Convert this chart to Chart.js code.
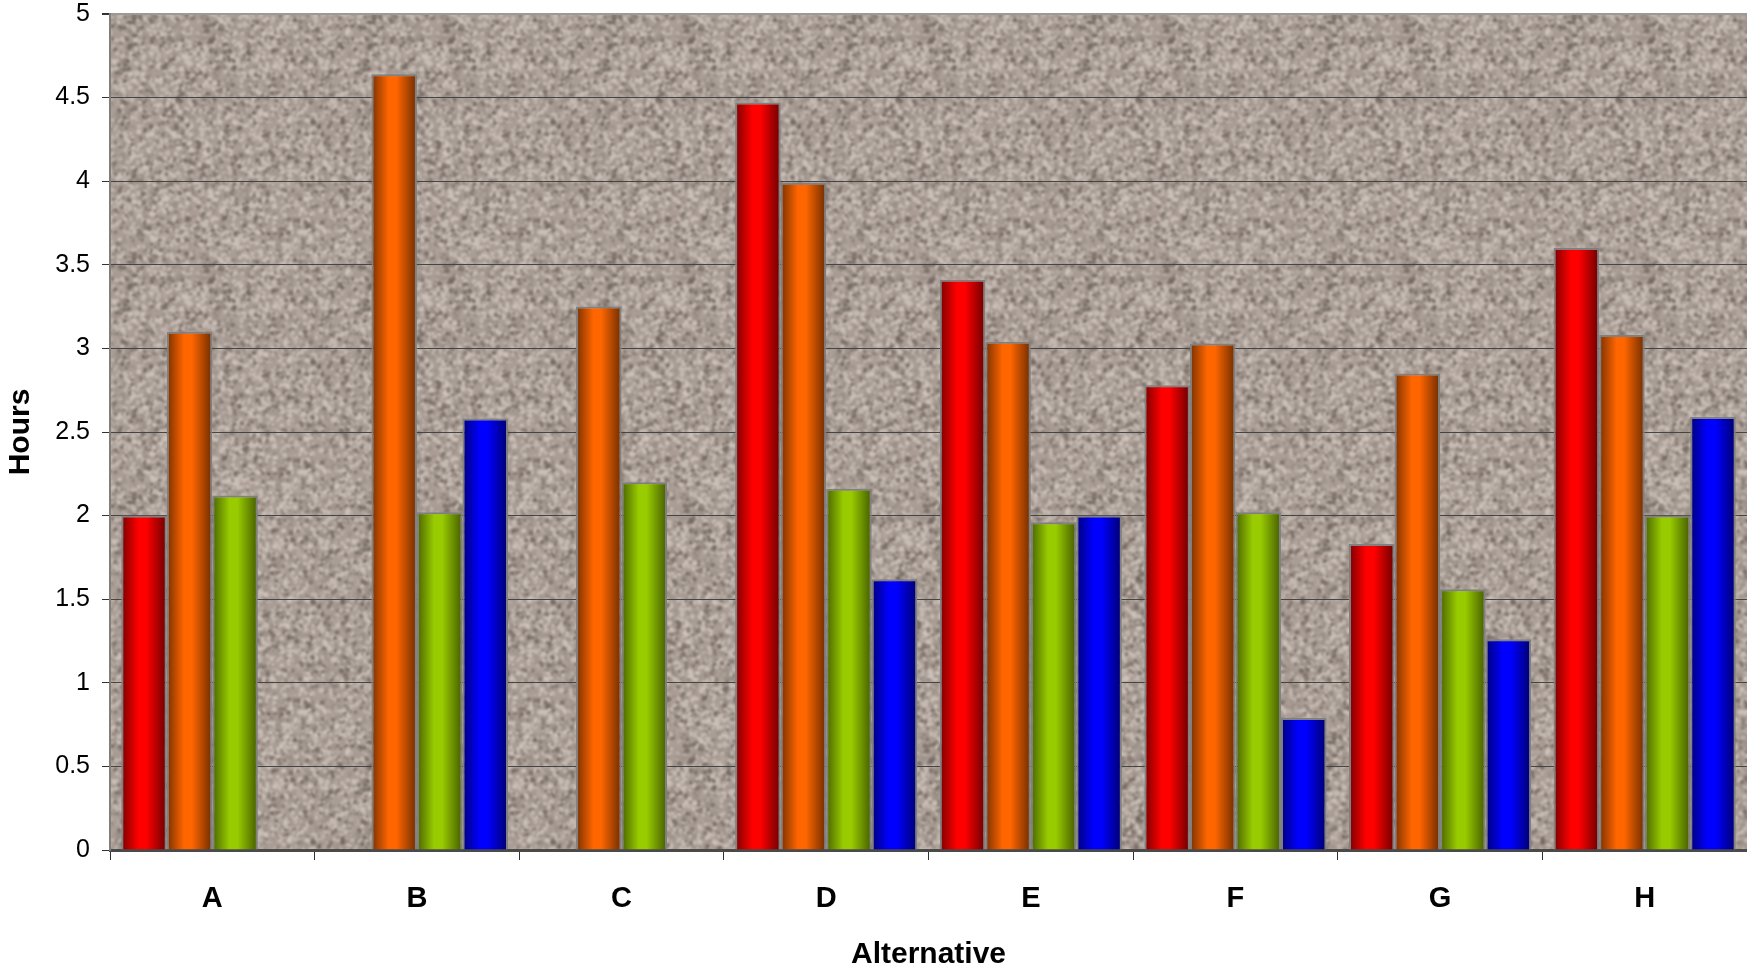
<!DOCTYPE html>
<html>
<head>
<meta charset="utf-8">
<script src="https://cdn.jsdelivr.net/npm/chart.js@4"></script>
<style>
  html, body { margin: 0; padding: 0; background: #fff; }
  #wrap { width: 1747px; height: 970px; }
</style>
</head>
<body>
<div id="wrap"><canvas id="grafico" width="1747" height="970"></canvas></div>
<script>
// categorias e valores (horas)
const alternativas = ['A', 'B', 'C', 'D', 'E', 'F', 'G', 'H'];
const serieVermelha = [2.00, null, null, 4.47, 3.41, 2.78, 1.83, 3.60];
const serieLaranja  = [3.10, 4.64, 3.25, 3.99, 3.04, 3.03, 2.85, 3.08];
const serieVerde    = [2.12, 2.02, 2.20, 2.16, 1.96, 2.02, 1.56, 2.00];
const serieAzul     = [null, 2.58, null, 1.62, 2.00, 0.79, 1.26, 2.59];
const marcasY = [0, 0.5, 1, 1.5, 2, 2.5, 3, 3.5, 4, 4.5, 5];

// cores: borda escura, centro claro, borda escura
const tons = [
    ['#7a0000', '#ff0000', '#ff0000', '#6a0000'],
    ['#7a3000', '#ff6600', '#ff6600', '#6e2c00'],
    ['#4a6400', '#99cc00', '#99cc00', '#445c00'],
    ['#00007a', '#0000ff', '#0000ff', '#00006e']
];

// textura de granito para o fundo
function criaTextura() {
    const N = 240;
    const c = document.createElement('canvas');
    c.width = N; c.height = N;
    const g = c.getContext('2d');
    g.fillStyle = '#aa9d95';
    g.fillRect(0, 0, N, N);
    let seed = 12345;
    const rnd = () => (seed = (seed * 16807) % 2147483647) / 2147483647;
    for (let i = 0; i < 6500; i++) {
        const x = rnd() * N, y = rnd() * N, r = 0.9 + rnd() * 1.8;
        const t = rnd();
        g.fillStyle = t < 0.45 ? 'rgba(208,198,190,0.7)'
                    : t < 0.8 ? 'rgba(152,141,133,0.6)'
                    : 'rgba(110,99,92,0.7)';
        // repete nas bordas para não ter emenda
        for (const dx of [-N, 0, N]) {
            for (const dy of [-N, 0, N]) {
                g.beginPath();
                g.arc(x + dx, y + dy, r, 0, Math.PI * 2);
                g.fill();
            }
        }
    }
    // mosaico 3x3, suaviza e recorta o centro
    const big = document.createElement('canvas');
    big.width = 3 * N; big.height = 3 * N;
    const gb = big.getContext('2d');
    for (let i = 0; i < 3; i++) {
        for (let j = 0; j < 3; j++) gb.drawImage(c, i * N, j * N);
    }
    const blur = document.createElement('canvas');
    blur.width = 3 * N; blur.height = 3 * N;
    const gbl = blur.getContext('2d');
    gbl.filter = 'blur(0.9px)';
    gbl.drawImage(big, 0, 0);
    const out = document.createElement('canvas');
    out.width = N; out.height = N;
    out.getContext('2d').drawImage(blur, N, N, N, N, 0, 0, N, N);
    return out;
}
const textura = criaTextura();

const fundo = {
    id: 'fundo',
    beforeDraw(chart) {
        const { ctx, chartArea: a } = chart;
        ctx.save();
        ctx.fillStyle = ctx.createPattern(textura, 'repeat');
        ctx.fillRect(a.left, a.top, a.right - a.left, a.bottom - a.top);
        ctx.restore();
    }
};

const sombreado = {
    id: 'sombreado',
    beforeDatasetsDraw(chart) {
        const ctx = chart.ctx;
        chart.data.datasets.forEach((ds, i) => {
            chart.getDatasetMeta(i).data.forEach(bar => {
                if (!isFinite(bar.x) || !isFinite(bar.width)) return;
                const x0 = bar.x - bar.width / 2;
                const gr = ctx.createLinearGradient(x0, 0, x0 + bar.width, 0);
                const t = tons[i];
                gr.addColorStop(0, t[0]);
                gr.addColorStop(0.38, t[1]);
                gr.addColorStop(0.55, t[2]);
                gr.addColorStop(1, t[3]);
                bar.options = Object.assign({}, bar.options, { backgroundColor: gr });
            });
        });
    }
};

const series = [serieVermelha, serieLaranja, serieVerde, serieAzul];
const nomes = ['Série 1', 'Série 2', 'Série 3', 'Série 4'];

new Chart(document.getElementById('grafico').getContext('2d'), {
    type: 'bar',
    data: {
        labels: alternativas,
        datasets: series.map((d, i) => ({
            label: nomes[i],
            data: d,
            backgroundColor: () => tons[i][1],
            borderColor: '#808080',
            borderWidth: 2,
            categoryPercentage: 0.89,
            barPercentage: 1.0
        }))
    },
    options: {
        responsive: false,
        animation: false,
        layout: { padding: { top: 14, right: 0, left: 0, bottom: 0 } },
        plugins: { legend: { display: false }, tooltip: { enabled: false } },
        scales: {
            x: {
                afterFit(s) { s.height = 120; s.paddingLeft = 0; s.paddingRight = 0; },
                grid: { drawOnChartArea: false, drawTicks: true, tickLength: 10, color: '#333', offset: true },
                border: { color: '#4a4a4a', width: 3 },
                ticks: { color: '#000', padding: 22, font: { family: 'Liberation Sans, Arial', size: 29, weight: 'bold' } },
                title: {
                    display: true, text: 'Alternative', color: '#000',
                    font: { family: 'Liberation Sans, Arial', size: 30, weight: 'bold', lineHeight: 1 },
                    padding: { top: 0, bottom: 0 }
                }
            },
            y: {
                min: 0, max: 5,
                afterFit(s) { s.width = 110; s.paddingTop = 0; s.paddingBottom = 0; },
                afterBuildTicks(s) { s.ticks = marcasY.map(v => ({ value: v })); },
                grid: {
                    color: c => c.tick && c.tick.value === 5 ? '#9a9a9a' : '#454545',
                    lineWidth: c => c.tick && c.tick.value === 5 ? 2 : 1,
                    tickColor: '#333',
                    tickLength: 8
                },
                border: { color: '#7f7f7f', width: 2 },
                ticks: {
                    color: '#000', padding: 12,
                    font: { family: 'Liberation Sans, Arial', size: 25, lineHeight: 1 },
                    callback: v => String(v)
                },
                title: {
                    display: true, text: 'Hours', color: '#000',
                    font: { family: 'Liberation Sans, Arial', size: 30, weight: 'bold' },
                    padding: { top: 3, bottom: 0 }
                }
            }
        }
    },
    plugins: [fundo, sombreado]
});
</script>
</body>
</html>
